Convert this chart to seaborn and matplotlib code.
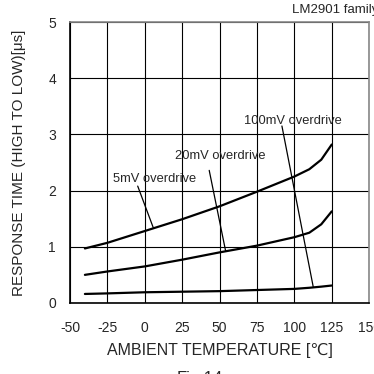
import pandas as pd
import matplotlib
matplotlib.use('Agg')
import matplotlib.pyplot as plt
import seaborn as sns

# Данные
temps = [-40, -25, 0, 25, 50, 75, 100, 110, 118, 125]
resp_5mv = [0.97, 1.07, 1.28, 1.49, 1.72, 1.98, 2.25, 2.38, 2.55, 2.82]
resp_20mv = [0.50, 0.56, 0.65, 0.77, 0.90, 1.02, 1.17, 1.25, 1.40, 1.63]
resp_100mv = [0.16, 0.17, 0.19, 0.20, 0.21, 0.23, 0.25, 0.27, 0.29, 0.31]

x_ticks = [-50, -25, 0, 25, 50, 75, 100, 125, 150]
y_ticks = [0, 1, 2, 3, 4, 5]

# Подписи кривых: текст, позиция текста, начало и конец выноски
labels = ['5mV overdrive', '20mV overdrive', '100mV overdrive']
label_pos = [(6.5, 2.21), (50.3, 2.61), (99, 3.24)]
leader_start = [(-4.7, 2.08), (43.1, 2.36), (91.7, 3.15)]
leader_end = [(5.7, 1.34), (54.1, 0.92), (112.6, 0.29)]

df = pd.DataFrame({
    'temp': temps * 3,
    'resp': resp_5mv + resp_20mv + resp_100mv,
    'series': ['5mV'] * len(temps) + ['20mV'] * len(temps) + ['100mV'] * len(temps),
})

sns.set_style('white')
plt.rcParams['font.family'] = ['Liberation Sans', 'DejaVu Sans']
plt.rcParams['axes.unicode_minus'] = False

fig = plt.figure(figsize=(3.74, 3.74), dpi=100)
ax = fig.add_axes([0.187, 0.19, 0.80, 0.751])

sns.lineplot(data=df, x='temp', y='resp', units='series', estimator=None,
             color='black', linewidth=1.6, ax=ax, legend=False)

ax.set_xlim(-50, 150)
ax.set_ylim(0, 5)
ax.set_xticks(x_ticks)
ax.set_yticks(y_ticks)
ax.grid(True, color='black', linewidth=0.8)
ax.set_axisbelow(True)
ax.tick_params(length=0, labelsize=10)
ax.tick_params(axis='x', pad=13)
ax.tick_params(axis='y', pad=10)
for side in ['left', 'bottom']:
    ax.spines[side].set_color('black')
    ax.spines[side].set_linewidth(1.2)
for side in ['top', 'right']:
    ax.spines[side].set_color('#888888')
    ax.spines[side].set_linewidth(1.2)

ax.set_xlabel('AMBIENT TEMPERATURE [℃]', fontsize=11.5, labelpad=6)
ax.set_ylabel('RESPONSE TIME (HIGH TO LOW)[μs]', fontsize=11, labelpad=16)

for text, pos, start, end in zip(labels, label_pos, leader_start, leader_end):
    ax.text(pos[0], pos[1], text, fontsize=9.3, ha='center', va='center')
    ax.annotate('', xy=end, xytext=start,
                arrowprops=dict(arrowstyle='-', color='black', lw=0.9, shrinkA=0, shrinkB=0))

fig.text(0.78, 0.973, 'LM2901 family', fontsize=9.5, ha='left', va='center')
fig.text(0.535, 0.008, 'Fig.14', fontsize=12, ha='center', va='top')

fig.savefig('out.png', dpi=100)
